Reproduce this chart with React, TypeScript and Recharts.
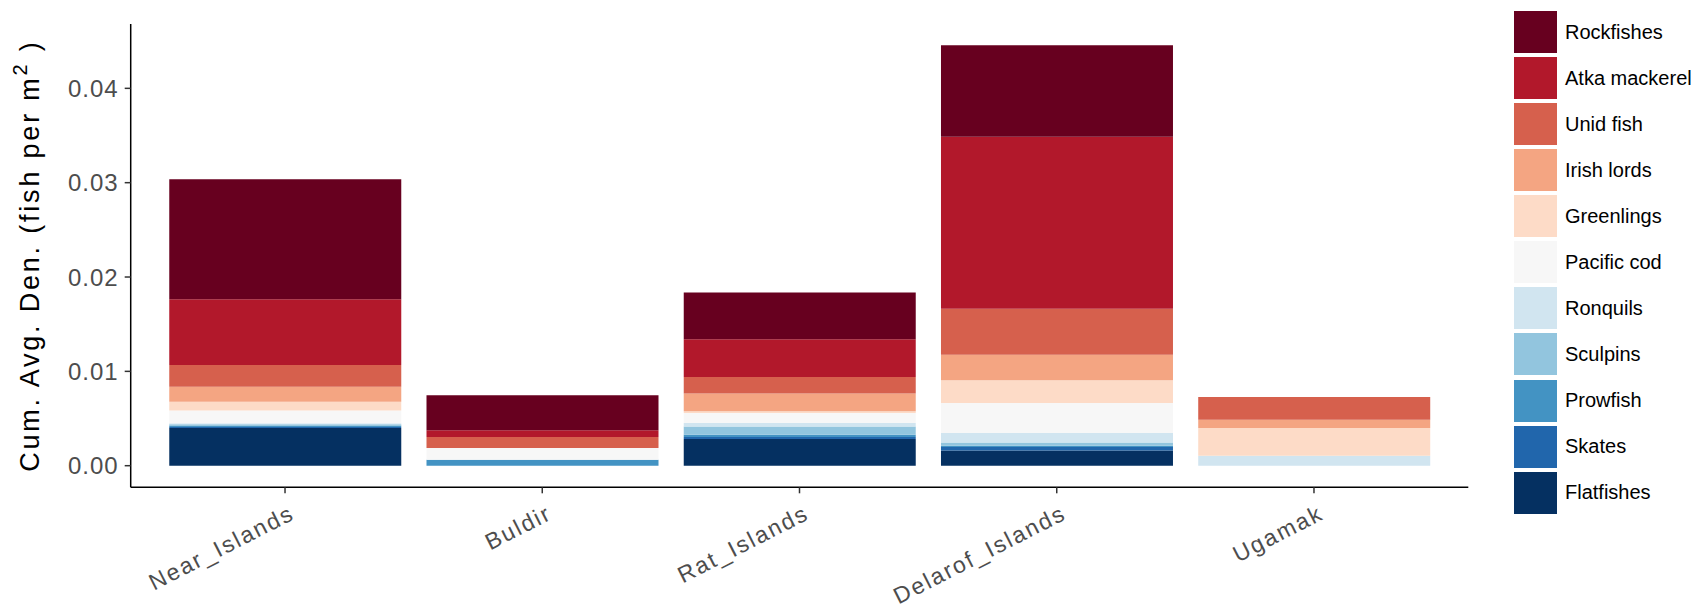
import React from "react";
import { BarChart, Bar, XAxis, YAxis } from "recharts";

const sites = ["Near_Islands", "Buldir", "Rat_Islands", "Delarof_Islands", "Ugamak"];

// cumulative average density per group
const flatfishes = [0.004, 0, 0.00283, 0.00162, 0];
const skates = [0.0001, 0, 0.0002, 0.00036, 0];
const prowfish = [0.00015, 0.00064, 0.00025, 0.00014, 0];
const sculpins = [0.00015, 0, 0.00088, 0.00035, 0];
const ronquils = [0.0001, 0, 0.00036, 0.001, 0.00106];
const pacificCod = [0.00134, 0.00124, 0.00106, 0.00318, 0];
const greenlings = [0.00095, 0, 0.00018, 0.0024, 0.00294];
const irishLords = [0.00159, 0, 0.00188, 0.00272, 0.00088];
const unidFish = [0.0023, 0.00117, 0.00177, 0.00486, 0.00241];
const atkaMackerel = [0.00696, 0.0007, 0.00399, 0.01823, 0];
const rockfishes = [0.01272, 0.00371, 0.00496, 0.0097, 0];

const yTicks = [0, 0.01, 0.02, 0.03, 0.04];

// bottom of the stack first
const groups = [
  { key: "Flatfishes", values: flatfishes, color: "#053061" },
  { key: "Skates", values: skates, color: "#2166AC" },
  { key: "Prowfish", values: prowfish, color: "#4393C3" },
  { key: "Sculpins", values: sculpins, color: "#92C5DE" },
  { key: "Ronquils", values: ronquils, color: "#D1E5F0" },
  { key: "Pacific cod", values: pacificCod, color: "#F7F7F7" },
  { key: "Greenlings", values: greenlings, color: "#FDDBC7" },
  { key: "Irish lords", values: irishLords, color: "#F4A582" },
  { key: "Unid fish", values: unidFish, color: "#D6604D" },
  { key: "Atka mackerel", values: atkaMackerel, color: "#B2182B" },
  { key: "Rockfishes", values: rockfishes, color: "#67001F" },
];

const data = sites.map((site, i) => {
  const row: Record<string, string | number> = { site };
  groups.forEach((g) => (row[g.key] = g.values[i]));
  return row;
});

const FONT = "'Liberation Sans', Arial, sans-serif";
const W = 1699;
const H = 605;
const PLOT_TOP = 16;
const PLOT_BOTTOM = 479.3;

function SiteTick({ x, payload }: any) {
  return (
    <g transform={`translate(${x + 11},${PLOT_BOTTOM + 31})`}>
      <text
        x={0}
        y={0}
        textAnchor="end"
        transform="rotate(-27)"
        fontSize={23}
        letterSpacing={2}
        fill="#4D4D4D"
        fontFamily={FONT}
      >
        {payload.value}
      </text>
    </g>
  );
}

function YTitle() {
  const cy = (PLOT_TOP + PLOT_BOTTOM) / 2;
  return (
    <text
      transform={`translate(31,${cy}) rotate(-90)`}
      textAnchor="middle"
      fontSize={27}
      letterSpacing={2.8}
      fill="#000"
      fontFamily={FONT}
    >
      Cum. Avg. Den. (fish per  m
      <tspan dy={-12} fontSize={20}>2</tspan>
      <tspan dy={12}> )</tspan>
    </text>
  );
}

function FishLegend() {
  const items = [...groups].reverse();
  return (
    <div style={{ position: "absolute", left: 1506, top: 3, fontFamily: FONT }}>
      {items.map((g, i) => (
        <div
          key={g.key}
          style={{ position: "absolute", top: i * 46.07, left: 0, height: 42, display: "flex", alignItems: "center", whiteSpace: "nowrap" }}
        >
          <div style={{ width: 43, height: 42, background: g.color }} />
          <span style={{ marginLeft: 8, fontSize: 20, color: "#000" }}>{g.key}</span>
        </div>
      ))}
    </div>
  );
}

export default function App() {
  return (
    <div style={{ position: "relative", width: W, height: H }}>
      <BarChart
        width={W}
        height={H}
        data={data}
        margin={{ top: PLOT_TOP, right: W - 1460.3, bottom: 0, left: 0 }}
        barCategoryGap="5%"
      >
        <XAxis
          dataKey="site"
          height={H - PLOT_BOTTOM}
          padding={{ left: 25.7, right: 25.7 }}
          axisLine={{ stroke: "#000", strokeWidth: 1.5 }}
          tickLine={{ stroke: "#333", strokeWidth: 1.5 }}
          tickSize={6}
          tick={<SiteTick />}
          interval={0}
        />
        <YAxis
          width={122.7}
          domain={[-0.00229, 0.04682]}
          ticks={yTicks}
          allowDataOverflow
          axisLine={{ stroke: "#000", strokeWidth: 1.5 }}
          tickLine={{ stroke: "#333", strokeWidth: 1.5 }}
          tickSize={6}
          tickMargin={6}
          tickFormatter={(v: number) => v.toFixed(2)}
          tick={{ fontSize: 24, fill: "#4D4D4D", fontFamily: FONT, letterSpacing: 1 }}
          label={<YTitle />}
        />
        {groups.map((g) => (
          <Bar
            key={g.key}
            dataKey={g.key}
            stackId="den"
            fill={g.color}
            isAnimationActive={false}
          />
        ))}
      </BarChart>
      <FishLegend />
    </div>
  );
}
